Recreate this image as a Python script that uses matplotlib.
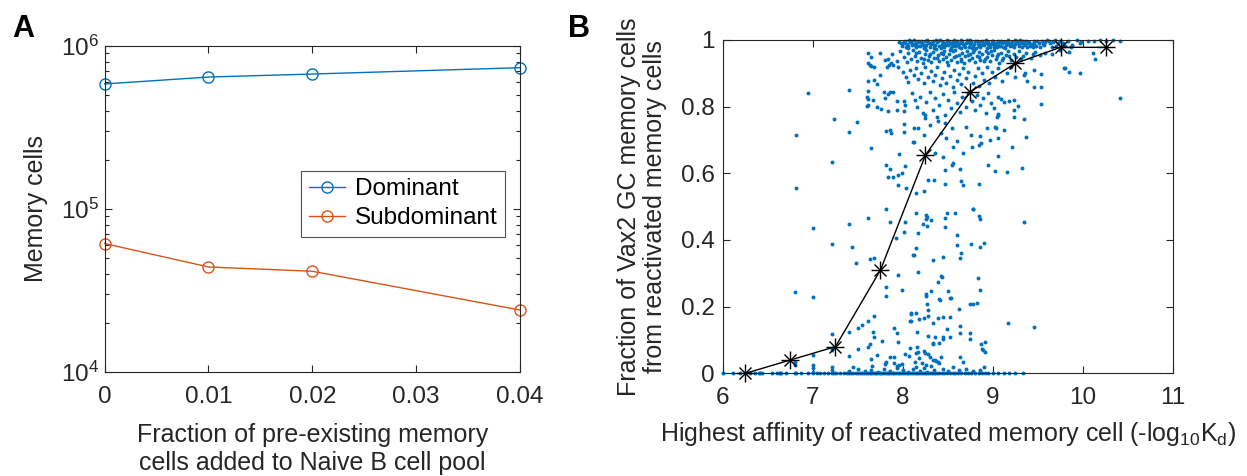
import matplotlib
matplotlib.use('Agg')
import matplotlib.pyplot as plt
from matplotlib.ticker import LogLocator, NullFormatter, FixedLocator

plt.rcParams['font.family'] = ['Liberation Sans', 'DejaVu Sans']
plt.rcParams['mathtext.fontset'] = 'custom'
plt.rcParams['mathtext.rm'] = 'Liberation Sans'
plt.rcParams['mathtext.it'] = 'Liberation Sans:italic'
plt.rcParams['mathtext.bf'] = 'Liberation Sans:bold'

# ---------------- Panel A data ----------------
fraction_added = [0, 0.01, 0.02, 0.04]
dominant = [5.85e5, 6.45e5, 6.73e5, 7.36e5]
subdominant = [6.14e4, 4.41e4, 4.15e4, 2.40e4]
a_xticks = [0, 0.01, 0.02, 0.03, 0.04]
a_xticklabels = ['0', '0.01', '0.02', '0.03', '0.04']

# ---------------- Panel B data ----------------
bin_centers = [6.25, 6.75, 7.25, 7.75, 8.25, 8.75, 9.25, 9.75, 10.25]
bin_means = [0.0, 0.04, 0.08, 0.31, 0.655, 0.845, 0.93, 0.978, 0.978]
b_xticks = [6, 7, 8, 9, 10, 11]
b_yticks = [0, 0.2, 0.4, 0.6, 0.8, 1.0]
b_yticklabels = ['0', '0.2', '0.4', '0.6', '0.8', '1']

# scatter points (affinity, fraction), grouped by band
pts_top = [
    (7.96, 0.995), (7.99, 0.982), (8.02, 0.998), (8.04, 0.987), (8.06, 0.976), (8.08, 0.993), (8.10, 0.984),
    (8.12, 0.999), (8.14, 0.978), (8.15, 0.990), (8.17, 0.996), (8.19, 0.983), (8.21, 0.991), (8.23, 0.977),
    (8.24, 0.998), (8.26, 0.986), (8.28, 0.994), (8.30, 0.980), (8.31, 0.989), (8.33, 0.997), (8.35, 0.975),
    (8.36, 0.985), (8.38, 0.993), (8.40, 0.981), (8.41, 0.999), (8.43, 0.988), (8.45, 0.995), (8.46, 0.978),
    (8.48, 0.991), (8.50, 0.984), (8.51, 0.997), (8.53, 0.976), (8.55, 0.989), (8.56, 0.994), (8.58, 0.981),
    (8.60, 0.998), (8.61, 0.986), (8.63, 0.992), (8.65, 0.977), (8.66, 0.996), (8.68, 0.983), (8.70, 0.990),
    (8.71, 0.999), (8.73, 0.979), (8.75, 0.987), (8.76, 0.994), (8.78, 0.982), (8.80, 0.997), (8.81, 0.975),
    (8.83, 0.989), (8.85, 0.993), (8.86, 0.980), (8.88, 0.998), (8.90, 0.985), (8.91, 0.991), (8.93, 0.977),
    (8.95, 0.995), (8.96, 0.983), (8.98, 0.989), (9.00, 0.998), (9.01, 0.979), (9.03, 0.992), (9.05, 0.986),
    (9.06, 0.997), (9.08, 0.981), (9.10, 0.990), (9.12, 0.995), (9.13, 0.976), (9.15, 0.987), (9.17, 0.999),
    (9.19, 0.983), (9.21, 0.993), (9.23, 0.978), (9.25, 0.988), (9.27, 0.996), (9.29, 0.982), (9.31, 0.991),
    (9.33, 0.998), (9.36, 0.985), (9.38, 0.979), (9.40, 0.994), (9.43, 0.987), (9.45, 0.998), (9.48, 0.981),
    (9.51, 0.992), (9.54, 0.996), (9.57, 0.984), (9.60, 0.999), (9.63, 0.990), (9.67, 0.995), (9.70, 0.983),
    (9.74, 0.998), (9.78, 0.991), (9.83, 0.997), (9.88, 0.986), (9.93, 0.999), (9.98, 0.994), (10.05, 0.998),
    (10.12, 0.996), (10.19, 0.999), (10.25, 0.997), (10.33, 0.999), (10.41, 0.998),
    (7.98, 0.990), (8.03, 0.979), (8.07, 0.999), (8.11, 0.988), (8.16, 0.983), (8.20, 0.997), (8.25, 0.979),
    (8.29, 0.990), (8.34, 0.984), (8.39, 0.997), (8.42, 0.977), (8.47, 0.986), (8.52, 0.992), (8.57, 0.999),
    (8.62, 0.980), (8.67, 0.988), (8.72, 0.993), (8.77, 0.977), (8.82, 0.996), (8.87, 0.986), (8.92, 0.999),
    (8.97, 0.980), (9.02, 0.988), (9.07, 0.993), (9.11, 0.979), (9.16, 0.994), (9.20, 0.987), (9.24, 0.999),
    (9.28, 0.990), (9.32, 0.978), (9.37, 0.996), (9.41, 0.982), (9.46, 0.989), (9.52, 0.980), (9.58, 0.993),
    (9.65, 0.978), (9.72, 0.990), (9.80, 0.982),
    (8.01, 0.992), (8.05, 0.983), (8.09, 0.996), (8.13, 0.986), (8.18, 0.993), (8.22, 0.985), (8.27, 0.999),
    (8.32, 0.993), (8.37, 0.999), (8.44, 0.982), (8.49, 0.999), (8.54, 0.983), (8.59, 0.990), (8.64, 0.999),
    (8.69, 0.979), (8.74, 0.999), (8.79, 0.988), (8.84, 0.981), (8.89, 0.992), (8.94, 0.988), (8.99, 0.996),
    (9.04, 0.979), (9.09, 0.998), (9.14, 0.984), (9.18, 0.991), (9.22, 0.983), (9.26, 0.992), (9.30, 0.999),
    (9.34, 0.988), (9.39, 0.990), (9.44, 0.979), (9.49, 0.997), (9.55, 0.988), (9.62, 0.997), (9.69, 0.999),
]
pts_upper = [
    (7.61, 0.960), (7.64, 0.950), (7.75, 0.962), (7.83, 0.944), (7.88, 0.958), (7.93, 0.936), (7.97, 0.968),
    (8.01, 0.948), (8.04, 0.935), (8.06, 0.962), (8.09, 0.943), (8.11, 0.970), (8.13, 0.953), (8.16, 0.938),
    (8.18, 0.964), (8.20, 0.947), (8.22, 0.931), (8.24, 0.957), (8.26, 0.969), (8.28, 0.941), (8.29, 0.952),
    (8.31, 0.934), (8.33, 0.963), (8.35, 0.946), (8.37, 0.972), (8.39, 0.955), (8.40, 0.937), (8.42, 0.961),
    (8.44, 0.944), (8.46, 0.968), (8.48, 0.950), (8.49, 0.933), (8.51, 0.958), (8.53, 0.940), (8.55, 0.966),
    (8.57, 0.948), (8.58, 0.971), (8.60, 0.935), (8.62, 0.956), (8.64, 0.943), (8.66, 0.962), (8.68, 0.930),
    (8.69, 0.951), (8.71, 0.967), (8.73, 0.939), (8.75, 0.957), (8.77, 0.946), (8.79, 0.970), (8.80, 0.933),
    (8.82, 0.953), (8.84, 0.963), (8.86, 0.941), (8.88, 0.958), (8.90, 0.936), (8.92, 0.967), (8.93, 0.949),
    (8.95, 0.960), (8.97, 0.938), (8.99, 0.954), (9.01, 0.969), (9.03, 0.944), (9.05, 0.958), (9.07, 0.932),
    (9.09, 0.962), (9.11, 0.947), (9.14, 0.955), (9.17, 0.968), (9.20, 0.940), (9.23, 0.959), (9.26, 0.948),
    (9.29, 0.966), (9.33, 0.953), (9.37, 0.960), (9.42, 0.945), (9.47, 0.965), (9.52, 0.955), (9.58, 0.962),
    (9.66, 0.958), (9.74, 0.970), (9.84, 0.965), (9.87, 0.980), (9.97, 0.990), (10.11, 0.962), (10.13, 0.942),
    (9.97, 0.900),
    (8.14, 0.962), (8.23, 0.944), (8.30, 0.958), (8.38, 0.947), (8.45, 0.957), (8.52, 0.969), (8.59, 0.952),
    (8.65, 0.938), (8.72, 0.955), (8.78, 0.964), (8.85, 0.950), (8.91, 0.943), (8.98, 0.966), (9.04, 0.951),
    (9.10, 0.940), (9.18, 0.952), (9.31, 0.944), (9.44, 0.958),
]
pts_band_c = [
    (7.61, 0.931), (7.63, 0.926), (7.65, 0.921), (7.68, 0.918), (7.80, 0.941), (7.84, 0.926), (7.82, 0.918),
    (7.87, 0.931), (7.89, 0.926), (7.74, 0.894), (7.61, 0.878), (7.68, 0.881), (7.71, 0.868), (7.95, 0.920),
    (8.00, 0.905), (8.03, 0.890), (8.05, 0.875), (8.08, 0.910), (8.12, 0.895), (8.15, 0.915), (8.17, 0.882),
    (8.20, 0.900), (8.23, 0.870), (8.25, 0.920), (8.28, 0.888), (8.31, 0.908), (8.33, 0.876), (8.36, 0.895),
    (8.38, 0.918), (8.41, 0.865), (8.43, 0.885), (8.46, 0.905), (8.48, 0.872), (8.50, 0.924), (8.52, 0.892),
    (8.55, 0.860), (8.57, 0.910), (8.60, 0.880), (8.62, 0.898), (8.65, 0.868), (8.67, 0.916), (8.70, 0.885),
    (8.72, 0.904), (8.78, 0.872), (8.80, 0.893), (8.83, 0.915), (8.85, 0.862), (8.88, 0.900), (8.90, 0.880),
    (8.93, 0.920), (8.96, 0.870), (8.99, 0.905), (9.02, 0.888), (9.06, 0.915), (9.10, 0.878), (9.15, 0.900),
    (9.20, 0.920), (9.25, 0.890), (9.34, 0.896), (9.35, 0.901), (9.38, 0.876), (9.46, 0.911), (9.53, 0.898),
    (9.53, 0.858), (9.80, 0.915), (9.84, 0.903), (9.79, 0.916),
]
pts_band_d = [
    (7.40, 0.849), (7.61, 0.846), (7.79, 0.844), (7.83, 0.838), (7.86, 0.843), (7.89, 0.844), (7.60, 0.828),
    (7.61, 0.824), (7.67, 0.821), (7.80, 0.826), (7.93, 0.818), (7.61, 0.806), (7.60, 0.801), (7.71, 0.798),
    (7.76, 0.793), (7.83, 0.788), (7.93, 0.791), (8.01, 0.788), (8.02, 0.806), (8.01, 0.818), (6.95, 0.841),
    (8.10, 0.840), (8.13, 0.820), (8.16, 0.800), (8.19, 0.830), (8.22, 0.780), (8.26, 0.815), (8.30, 0.845),
    (8.33, 0.790), (8.36, 0.825), (8.40, 0.805), (8.44, 0.838), (8.47, 0.775), (8.50, 0.820), (8.53, 0.797),
    (8.57, 0.845), (8.60, 0.810), (8.63, 0.785), (8.66, 0.828), (8.70, 0.800), (8.72, 0.842), (8.77, 0.818),
    (8.80, 0.790), (8.82, 0.835), (8.86, 0.805), (8.89, 0.825), (8.92, 0.780), (8.95, 0.842), (8.98, 0.810),
    (9.01, 0.795), (9.05, 0.830), (9.09, 0.824), (9.12, 0.813), (9.18, 0.818), (9.23, 0.821), (9.28, 0.801),
    (9.23, 0.791), (9.06, 0.778), (9.04, 0.768), (9.23, 0.768), (9.34, 0.763), (9.53, 0.809), (9.46, 0.858),
    (8.38, 0.768), (8.39, 0.756), (8.24, 0.766), (8.24, 0.774), (9.05, 0.776), (8.47, 0.751), (10.41, 0.827),
]
pts_mid = [
    (6.81, 0.714), (6.81, 0.557), (7.40, 0.724), (7.23, 0.764), (7.49, 0.753), (7.21, 0.634), (7.81, 0.726),
    (7.86, 0.731), (7.87, 0.721), (8.01, 0.724), (8.01, 0.748), (8.11, 0.694), (7.64, 0.676), (7.96, 0.658),
    (7.81, 0.625), (7.86, 0.613), (8.02, 0.623), (7.99, 0.601), (7.83, 0.590), (7.89, 0.588), (7.95, 0.596),
    (7.94, 0.566), (8.03, 0.556), (7.81, 0.494), (8.12, 0.736), (8.17, 0.736), (8.23, 0.716), (8.12, 0.694),
    (8.54, 0.736), (8.60, 0.696), (8.55, 0.678), (8.67, 0.661), (8.55, 0.631), (8.54, 0.626), (8.77, 0.678),
    (8.84, 0.686), (8.87, 0.691), (8.76, 0.716), (8.86, 0.711), (8.97, 0.701), (9.05, 0.706), (8.93, 0.736),
    (9.02, 0.738), (8.47, 0.611), (8.63, 0.614), (8.94, 0.626), (9.02, 0.608), (8.28, 0.581), (8.34, 0.581),
    (8.47, 0.568), (8.65, 0.576), (8.67, 0.566), (8.85, 0.569), (8.23, 0.548), (8.15, 0.541), (8.78, 0.494),
    (9.03, 0.736), (9.12, 0.731), (9.37, 0.709), (9.21, 0.679), (9.06, 0.651), (9.16, 0.605), (9.32, 0.615),
    (8.30, 0.745), (8.42, 0.720), (8.48, 0.705), (8.36, 0.660), (8.70, 0.740), (8.45, 0.650),
]
pts_low = [
    (6.80, 0.243), (7.00, 0.435), (7.00, 0.230), (7.21, 0.075), (7.21, 0.070), (6.80, 0.035), (7.00, 0.055),
    (7.61, 0.467), (7.40, 0.448), (7.86, 0.453), (8.02, 0.453), (8.01, 0.425), (7.92, 0.405), (7.21, 0.388),
    (7.43, 0.378), (8.11, 0.355), (7.63, 0.342), (7.68, 0.345), (7.48, 0.332), (7.95, 0.295), (7.81, 0.258),
    (7.99, 0.250), (7.81, 0.233), (8.09, 0.178), (8.09, 0.158), (7.68, 0.172), (7.61, 0.158), (7.55, 0.145),
    (7.50, 0.135), (7.40, 0.123), (7.21, 0.117), (7.90, 0.137), (7.67, 0.123), (7.68, 0.108), (7.77, 0.098),
    (7.93, 0.120), (7.94, 0.093), (7.63, 0.088), (7.61, 0.080), (7.50, 0.073), (7.40, 0.053), (7.71, 0.055),
    (7.86, 0.050), (7.90, 0.050), (8.02, 0.058), (8.07, 0.053), (7.65, 0.042), (7.81, 0.033), (7.80, 0.028),
    (7.21, 0.020), (7.93, 0.022), (7.96, 0.025), (7.99, 0.027),
    (8.15, 0.480), (8.26, 0.475), (8.27, 0.470), (8.26, 0.462), (8.22, 0.448), (8.27, 0.442), (8.31, 0.460),
    (8.47, 0.465), (8.49, 0.480), (8.58, 0.480), (8.78, 0.493), (8.84, 0.472), (8.86, 0.463), (8.47, 0.438),
    (8.17, 0.420), (8.60, 0.415), (8.60, 0.385), (8.76, 0.388), (8.90, 0.392), (8.86, 0.380), (8.65, 0.360),
    (8.63, 0.345), (8.15, 0.375), (8.12, 0.355), (8.45, 0.348), (8.33, 0.340), (8.17, 0.305), (8.42, 0.292),
    (8.43, 0.288), (8.39, 0.273), (8.83, 0.285), (8.86, 0.250), (8.31, 0.247), (8.26, 0.237), (8.26, 0.233),
    (8.50, 0.247), (8.40, 0.223), (8.41, 0.220), (8.52, 0.227), (8.53, 0.225), (8.82, 0.210), (8.74, 0.208),
    (8.78, 0.207), (8.27, 0.207), (8.62, 0.192), (8.28, 0.190), (8.15, 0.180), (8.09, 0.180), (8.28, 0.172),
    (8.18, 0.162), (8.08, 0.157), (8.23, 0.165), (8.33, 0.150), (8.39, 0.167), (8.44, 0.168), (8.52, 0.170),
    (8.63, 0.143), (8.49, 0.132), (8.16, 0.123), (8.28, 0.112), (8.36, 0.110), (8.45, 0.108), (8.45, 0.103),
    (8.52, 0.108), (8.63, 0.120), (8.74, 0.120), (8.74, 0.102), (8.33, 0.092), (8.33, 0.088), (8.40, 0.092),
    (8.87, 0.088), (8.91, 0.095), (8.91, 0.065), (8.89, 0.070), (8.88, 0.073), (8.08, 0.075), (8.16, 0.080),
    (8.15, 0.062), (8.17, 0.065), (8.23, 0.068), (8.24, 0.060), (8.28, 0.057), (8.30, 0.050), (8.36, 0.040),
    (8.37, 0.038), (8.39, 0.035), (8.42, 0.048), (8.63, 0.050), (8.67, 0.035), (9.46, 0.138), (9.34, 0.455),
    (9.17, 0.150),
]
pts_zero = [
    (6.00, 0.0), (6.11, 0.0), (6.19, 0.0), (6.25, 0.0), (6.30, 0.0), (6.36, 0.0), (6.40, 0.0), (6.41, 0.0),
    (6.43, 0.0), (6.55, 0.0), (6.60, 0.0), (6.62, 0.0), (6.63, 0.0), (6.65, 0.0), (6.70, 0.0), (6.80, 0.0),
    (6.81, 0.0), (6.87, 0.0), (6.95, 0.0), (7.00, 0.0), (7.05, 0.0), (7.08, 0.0), (7.12, 0.0), (7.17, 0.0),
    (7.21, 0.0), (7.23, 0.0), (7.26, 0.0), (7.30, 0.0), (7.34, 0.0), (7.38, 0.0), (7.40, 0.0), (7.42, 0.0),
    (7.45, 0.0), (7.48, 0.0), (7.50, 0.0), (7.52, 0.0), (7.55, 0.0), (7.57, 0.0), (7.59, 0.0), (7.61, 0.0),
    (7.63, 0.0), (7.65, 0.0), (7.67, 0.0), (7.69, 0.0), (7.70, 0.0), (7.72, 0.0), (7.74, 0.0), (7.76, 0.0),
    (7.78, 0.0), (7.80, 0.0), (7.82, 0.0), (7.83, 0.0), (7.85, 0.0), (7.87, 0.0), (7.89, 0.0), (7.90, 0.0),
    (7.92, 0.0), (7.94, 0.0), (7.96, 0.0), (7.98, 0.0), (8.00, 0.0), (8.02, 0.0), (8.04, 0.0), (8.06, 0.0),
    (8.08, 0.0), (8.10, 0.0), (8.12, 0.0), (8.14, 0.0), (8.16, 0.0), (8.18, 0.0), (8.20, 0.0), (8.22, 0.0),
    (8.24, 0.0), (8.26, 0.0), (8.28, 0.0), (8.30, 0.0), (8.32, 0.0), (8.34, 0.0), (8.36, 0.0), (8.38, 0.0),
    (8.40, 0.0), (8.43, 0.0), (8.46, 0.0), (8.49, 0.0), (8.52, 0.0), (8.55, 0.0), (8.58, 0.0), (8.61, 0.0),
    (8.65, 0.0), (8.69, 0.0), (8.72, 0.0), (8.76, 0.0), (8.80, 0.0), (8.84, 0.0), (8.88, 0.0), (8.91, 0.0),
    (8.95, 0.0), (9.00, 0.0), (9.05, 0.0), (9.12, 0.0), (9.18, 0.0), (9.25, 0.0), (9.33, 0.0),
    (7.00, 0.015), (7.00, 0.025), (7.00, 0.005), (6.80, 0.025), (7.21, 0.010), (7.40, 0.008), (7.50, 0.012),
    (7.58, 0.006), (7.64, 0.010), (7.72, 0.004), (7.79, 0.012), (7.86, 0.007), (7.93, 0.015), (8.00, 0.009),
    (8.05, 0.004), (8.11, 0.013), (8.15, 0.020), (8.19, 0.008), (8.23, 0.016), (8.27, 0.005), (8.31, 0.022),
    (8.35, 0.010), (8.40, 0.030), (8.45, 0.012), (8.50, 0.006), (8.56, 0.018), (8.62, 0.009), (8.70, 0.014),
    (8.78, 0.006), (8.86, 0.010), (8.90, 0.020), (7.45, 0.020), (7.66, 0.022), (7.90, 0.030), (8.13, 0.035),
    (8.21, 0.030), (8.33, 0.040), (8.18, 0.045), (8.26, 0.025),
]

# ---------------- Styling ----------------
AX_COLOR = '#262626'
BLUE = '#0072BD'
ORANGE = '#D95319'
W, H = 1247, 476
TICK_FS = 17.5
LABEL_FS = 18

fig = plt.figure(figsize=(W / 100, H / 100), dpi=100)


def style_axes(ax):
    for sp in ax.spines.values():
        sp.set_color(AX_COLOR)
        sp.set_linewidth(0.8)
    ax.tick_params(which='both', direction='in', top=True, right=True,
                   color=AX_COLOR, labelcolor=AX_COLOR, labelsize=TICK_FS, width=0.8)
    ax.tick_params(which='major', length=5, pad=10)
    ax.tick_params(which='minor', length=3)


# Panel A
axA = fig.add_axes([104.6 / W, 1 - 372 / H, (520 - 104.6) / W, (372 - 46) / H])
axA.plot(fraction_added, dominant, '-o', color=BLUE, mfc='none', mec=BLUE, ms=8, lw=1,
         mew=1, label='Dominant', clip_on=False)
axA.plot(fraction_added, subdominant, '-o', color=ORANGE, mfc='none', mec=ORANGE, ms=8, lw=1,
         mew=1, label='Subdominant', clip_on=False)
axA.set_yscale('log')
axA.set_xlim(0, 0.04)
axA.set_ylim(1e4, 1e6)
axA.set_xticks(a_xticks)
axA.set_xticklabels(a_xticklabels)
axA.yaxis.set_major_locator(FixedLocator([1e4, 1e5, 1e6]))
axA.set_yticklabels(['$\\mathregular{10^{4}}$', '$\\mathregular{10^{5}}$', '$\\mathregular{10^{6}}$'])
axA.yaxis.set_minor_locator(LogLocator(base=10, subs=range(2, 10)))
axA.yaxis.set_minor_formatter(NullFormatter())
style_axes(axA)
axA.tick_params(axis='y', which='major', pad=4)
axA.set_xlabel('Fraction of pre-existing memory\ncells added to Naive B cell pool',
               fontsize=LABEL_FS, color=AX_COLOR, linespacing=1.2)
axA.xaxis.label.set_va('center')
axA.xaxis.set_label_coords(0.5, -0.235)
axA.set_ylabel('Memory cells', fontsize=LABEL_FS, color=AX_COLOR)
axA.yaxis.label.set_va('center')
axA.yaxis.set_label_coords(-0.166, 0.5)
leg = axA.legend(loc='upper left', bbox_to_anchor=(0.474, 0.617), fontsize=17.5,
                 frameon=True, fancybox=False, borderpad=0.3, handlelength=1.5,
                 handletextpad=0.4, labelspacing=0.3, borderaxespad=0)
leg.get_frame().set_edgecolor(AX_COLOR)
leg.get_frame().set_linewidth(0.8)

# Panel B
axB = fig.add_axes([723 / W, 1 - 373.3 / H, (1173 - 723) / W, (373.3 - 40) / H])
all_pts = pts_top + pts_upper + pts_band_c + pts_band_d + pts_mid + pts_low + pts_zero
sx = [p[0] for p in all_pts]
sy = [p[1] for p in all_pts]
axB.scatter(sx, sy, s=8, color=BLUE, linewidths=0, clip_on=False, zorder=2)
axB.plot(bin_centers, bin_means, '-', color='black', lw=1, zorder=3, clip_on=False)
axB.plot(bin_centers, bin_means, '+', color='black', ms=12.5, mew=1, zorder=4, clip_on=False)
axB.plot(bin_centers, bin_means, 'x', color='black', ms=9, mew=1, zorder=4, clip_on=False)
axB.set_xlim(6, 11)
axB.set_ylim(0, 1)
axB.set_xticks(b_xticks)
axB.set_yticks(b_yticks)
axB.set_yticklabels(b_yticklabels)
style_axes(axB)
axB.tick_params(axis='y', which='major', pad=6)
axB.set_xlabel('Highest affinity of reactivated memory cell (-log$_{\\mathregular{10}}$K$_{\\mathregular{d}}$)',
               fontsize=LABEL_FS, color=AX_COLOR)
axB.xaxis.label.set_va('center')
axB.xaxis.set_label_coords(0.5, -0.182)
axB.set_ylabel('Fraction of Vax2 GC memory cells\nfrom reactivated memory cells',
               fontsize=LABEL_FS, color=AX_COLOR, linespacing=1.1)
axB.yaxis.label.set_va('center')
axB.yaxis.set_label_coords(-0.18, 0.5)

# panel letters
fig.text(12 / W, 1 - 37 / H, 'A', fontsize=22, fontweight='bold', color='black', va='baseline')
fig.text(568 / W, 1 - 37 / H, 'B', fontsize=22, fontweight='bold', color='black', va='baseline')

fig.savefig('out.png', dpi=100)
